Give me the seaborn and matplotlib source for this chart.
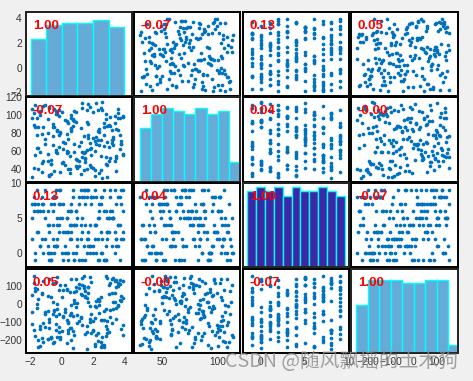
# %%
import numpy as np
import pandas as pd
import matplotlib
matplotlib.use("Agg")
import matplotlib.pyplot as plt
import seaborn as sns

# %%
# 200 samples of four variables, written in rows of 20
x1 = [2.4, -0.7, 3.6, 1.2, -1.5, 0.8, 3.1, -0.2, 1.7, -1.8, 2.9, 0.3, 1.4, -0.5, 3.8, 2.1, -1.2, 0.6, 1.9, -0.9,
      0.4, -1.3, 2.7, 3.3, -0.4, 1.1, 2.2, -1.7, 0.9, 3.9, -0.8, 1.6, 2.5, 0.1, -1.1, 3.5, 0.7, -0.3, 1.8, 2.8,
      -1.6, 2.3, 0.5, 3.7, -0.6, 1.3, 2.6, 0.2, -1.9, 3.2, 1.5, -0.1, 2.9, 0.8, -1.4, 3.4, 2.0, 1.7, -0.9, 0.6,
      1.0, -1.8, 3.0, -0.2, 2.4, 0.3, -0.7, 1.6, 3.6, -1.3, 2.1, 0.9, -0.5, 1.2, 3.9, 2.7, -1.5, 0.4, -0.3, 1.8,
      2.2, -0.8, 0.7, 3.5, -1.1, 1.4, 2.8, 0.0, -0.4, 3.1, 1.9, -1.6, 2.5, 0.5, 3.8, -0.6, 1.1, 2.3, 0.2, -1.9,
      -0.3, 1.5, 3.3, -1.2, 2.6, 0.1, -0.9, 2.0, 3.7, 1.3, -1.7, 0.6, -0.1, 2.9, 1.8, 3.4, -0.6, 2.4, 0.8, -1.4,
      3.9, 0.4, -1.5, 1.7, 2.2, -0.2, 3.2, 1.0, -1.8, 0.9, 2.7, 3.6, -0.7, 1.3, -1.1, 0.3, 2.5, 3.0, 1.6, -0.5,
      1.2, -0.4, 3.5, 0.6, 2.8, -1.3, 1.9, 0.2, 3.8, -0.8, 2.1, 1.4, 0.7, 3.3, -1.6, 0.0, 2.6, 1.5, 3.1, -0.1,
      -0.9, 2.3, 3.7, 0.5, -1.2, 1.1, 2.9, -0.3, 3.4, 0.8, -0.6, 2.0, 1.6, 3.0, -1.9, 2.5, 0.1, -0.2, 1.8, 3.6,
      0.3, -1.4, 2.7, 1.3, -0.7, 3.2, 0.9, 2.1, 1.7, -0.4, 3.9, 0.6, 2.4, -1.7, 1.0, 2.8, 0.4, -0.8, 1.5, 3.5]

x2 = [84, 45, 102, 34, 63, 93, 52, 77, 112, 41, 88, 57, 38, 107, 68, 71, 48, 97, 55, 80,
      59, 36, 91, 66, 104, 43, 75, 86, 51, 99, 32, 61, 108, 47, 73, 54, 95, 82, 69, 101,
      78, 105, 39, 62, 87, 53, 114, 44, 96, 72, 58, 81, 31, 67, 100, 49, 74, 90, 56, 85,
      42, 89, 64, 106, 35, 79, 50, 92, 83, 46, 60, 103, 37, 70, 98, 65, 87, 40, 57, 109,
      67, 33, 94, 52, 111, 76, 45, 103, 58, 88, 63, 97, 38, 54, 71, 90, 48, 82, 69, 107,
      101, 47, 73, 86, 30, 62, 95, 41, 78, 108, 55, 84, 36, 70, 44, 99, 66, 81, 104, 59,
      56, 91, 39, 74, 113, 64, 83, 50, 102, 43, 77, 96, 34, 59, 68, 93, 72, 49, 106, 87,
      85, 61, 37, 100, 53, 79, 42, 94, 67, 109, 32, 57, 88, 75, 63, 46, 105, 51, 98, 80,
      48, 72, 97, 35, 110, 65, 44, 83, 91, 58, 76, 103, 40, 89, 31, 54, 70, 99, 62, 107,
      60, 104, 86, 113, 45, 69, 92, 38, 78, 101, 55, 82, 66, 111, 41, 95, 73, 108, 52, 84]

x3 = [5, 0, 8, 2, 6, -1, 9, 4, 1, 7, 3, 5, 8, 0, 2, 9, 6, 4, 7, 1,
      3, 7, -1, 5, 1, 8, 4, 0, 6, 2, -1, 9, 3, 7, 5, 2, 8, 4, 1, 6,
      9, 2, 6, -1, 4, 8, 0, 3, 7, 1, 9, 5, 2, -1, 6, 0, 8, 3, 4, 7,
      1, 6, 3, 9, -1, 5, 7, 0, 4, 8, 2, 6, 1, 9, 3, -1, 7, 0, 5, 4,
      8, 4, 0, 7, 2, 9, -1, 5, 1, 6, 8, 3, 0, 4, 9, 2, 7, -1, 1, 5,
      2, 7, 5, 0, 8, 3, 6, 1, 4, -1, 7, 2, 9, 5, 0, 3, 8, 6, 4, 1,
      6, -1, 3, 9, 0, 7, 5, 2, 8, 4, 6, 1, -1, 3, 9, 0, 8, 5, 2, 7,
      4, 9, 1, 6, -1, 2, 8, 0, 7, 3, 4, 1, 9, 5, 6, 0, 2, -1, 8, 7,
      0, 5, 8, 2, 7, -1, 3, 1, 9, 4, 6, 0, 8, 5, 2, 7, -1, 3, 1, 4,
      3, 1, 9, 5, -1, 6, 0, 4, 2, 8, 9, 3, 7, -1, 5, 1, 6, 0, 4, 2]

x4 = [23, -187, 117, -72, -238, 66, -34, -128, 7, 152, -163, -91, 88, -212, 41, -11, -104, 139, -58, -195,
      -143, 56, -226, 12, -67, 108, -19, -176, 93, -115, -84, 31, -241, 74, -47, 131, -152, -3, -99, -121,
      84, -205, -136, 19, -58, 142, -182, -27, 46, -109, -169, 102, -93, 3, -233, 125, -147, 59, -41, -198,
      -61, 113, -158, 77, -8, -219, 36, -124, 97, -190, -77, 134, -36, 52, -171, -88, 28, -101, 146, -15,
      14, -132, -244, 91, -54, 155, -177, 38, -112, -71, 119, -24, -209, 63, -140, 8, -96, -160, 104, -45,
      -186, 72, -31, 128, -229, -65, 44, -153, 110, -118, 85, -6, -197, 141, -82, 57, -215, -49, 21, -137,
      33, -108, -202, 95, -174, -56, 137, 5, -146, 69, -237, -13, -189, 48, -127, 81, -92, 106, -155, -38,
      -79, 121, -21, -133, 153, 62, -164, -44, 17, -103, -222, 99, -68, 145, -2, -149, -87, 40, 115, -181,
      -193, 26, 130, -62, -211, 87, -141, -28, 10, -170, 112, -97, -248, 54, -113, 35, -75, -157, 148, -9,
      78, -125, -39, 101, -184, 58, -17, -231, 92, -144, 124, -53, 15, 71, -106, -30, -162, 136, 42, -86]

names = ["x1", "x2", "x3", "x4"]
corr_text = [["1.00", "-0.07", "0.13", "0.05"],
             ["-0.07", "1.00", "0.04", "-0.00"],
             ["0.13", "0.04", "1.00", "-0.07"],
             ["0.05", "-0.00", "-0.07", "1.00"]]
limits = [(-2.3, 4.5), (25, 120), (-2, 10), (-272, 192)]
bin_edges = [np.arange(-2, 5, 1), np.arange(30, 130, 10),
             np.arange(-1.5, 10.5, 1), np.arange(-250, 250, 50)]
hist_top = [40, 30, 20, 30]
xticks = [[-2, 0, 2, 4], [50, 100], [0, 5, 10], [-200, -100, 0, 100]]
yticks = [[-2, 0, 2, 4], [40, 60, 80, 100, 120], [0, 5, 10], [-200, -100, 0, 100]]

df = pd.DataFrame({"x1": x1, "x2": x2, "x3": x3, "x4": x4})

# %%
sns.set_theme(style="white")
plt.rcParams["font.family"] = ["Liberation Sans", "DejaVu Sans"]

fig = plt.figure(figsize=(4.73, 3.81), dpi=100, facecolor="#f0f0f0")
W, H = 473, 381
col_left = [26, 134, 243, 351]
col_w = [106, 106, 106, 107]
row_top = [12, 97, 183, 269]
row_h = [84, 85, 84, 84]

dot_color = "#0072BD"
hist_color = "#66aad7"
hist_hl = "#3c28a6"

for i in range(4):
    for j in range(4):
        ax = fig.add_axes([col_left[j] / W, 1 - (row_top[i] + row_h[i]) / H,
                           col_w[j] / W, row_h[i] / H])
        ax.set_facecolor("white")
        for sp in ax.spines.values():
            sp.set_color("black")
            sp.set_linewidth(1.4)
        ax.set_xlim(limits[j])
        ax.set_ylim(limits[i])
        ax.tick_params(length=0, labelsize=7.3, labelcolor="#333333", pad=3)
        ax.set_xticks(xticks[j])
        ax.set_yticks(yticks[i])
        if i < 3:
            ax.set_xticklabels([])
        if j > 0:
            ax.set_yticklabels([])
        ax.set_xlabel("")
        ax.set_ylabel("")

        if i == j:
            hax = ax.twinx()
            sns.histplot(x=df[names[i]], bins=bin_edges[i], ax=hax,
                         color=hist_hl if i == 2 else hist_color,
                         edgecolor="cyan", linewidth=1.0, alpha=1)
            hax.set_ylim(0, hist_top[i])
            hax.set_xlim(limits[j])
            hax.set_yticks([])
            hax.set_ylabel("")
            hax.set_xlabel("")
            for sp in hax.spines.values():
                sp.set_linewidth(1.4)
            target = hax
        else:
            sns.scatterplot(x=df[names[j]], y=df[names[i]], ax=ax, s=7,
                            color=dot_color, linewidth=0, marker="o")
            ax.set_xlabel("")
            ax.set_ylabel("")
            target = ax

        target.text(0.065, 0.835, corr_text[i][j], transform=target.transAxes,
                    color="red", fontsize=9.5, fontweight="bold",
                    ha="left", va="center", zorder=10)

# watermark over the bottom-right corner, as in the source image
fig.text(0.968, 0.05, "CSDN @随风飘摇的土木狗", ha="right", va="center",
         fontsize=14.2, color="#8c8c8c", alpha=0.8,
         family=["Noto Sans CJK SC", "DejaVu Sans"])

fig.savefig("out.png", dpi=100, facecolor=fig.get_facecolor())
